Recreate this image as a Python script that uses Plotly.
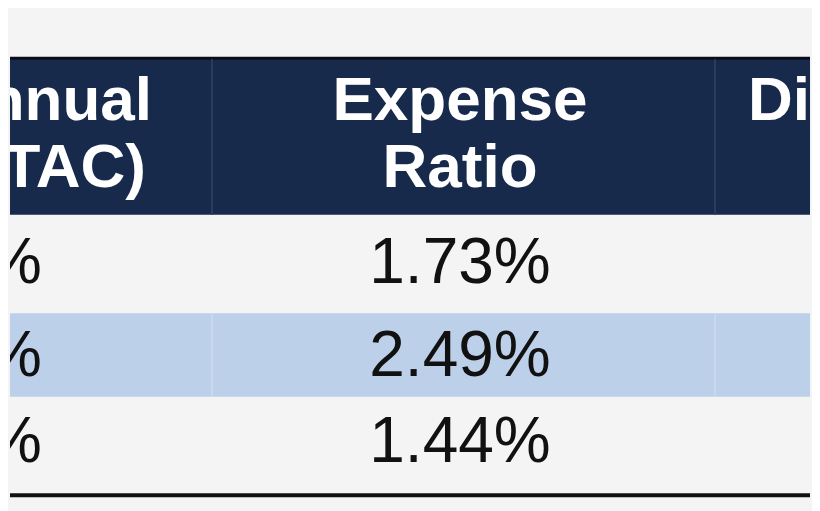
import plotly.graph_objects as go

header_mid = ["Expense", "Ratio"]
header_left = ["Annual", "(TAC)"]
header_right = ["Distribution", ""]
ratios = ["1.73%", "2.49%", "1.44%"]
left_vals = ["1.85%", "2.61%", "1.56%"]

fig = go.Figure()
bg = "#f4f4f4"
navy = "#182a4c"
blue = "#bcd0ea"
shapes = [
    dict(type="rect", x0=0, x1=900, y0=42, y1=202, fillcolor=navy, line_width=0, layer="below"),
    dict(type="line", x0=0, x1=900, y0=43, y1=43, line=dict(color="#0c0c18", width=3), layer="below"),
    dict(type="rect", x0=0, x1=900, y0=302, y1=387, fillcolor=blue, line_width=0, layer="below"),
    dict(type="line", x0=0, x1=900, y0=487, y1=487, line=dict(color="#111", width=4), layer="below"),
]
for xc in [212, 715]:
    shapes.append(dict(type="line", x0=xc, x1=xc, y0=44, y1=202, line=dict(color="#2a3c5e", width=2), layer="below"))
    shapes.append(dict(type="line", x0=xc, x1=xc, y0=302, y1=387, line=dict(color="#c8d8ee", width=2), layer="below"))
ry = [255, 350, 437]
hy = [90, 158]
hf = dict(family="Liberation Sans, Arial", size=62, color="white")
vf = dict(family="Liberation Sans, Arial", size=64, color="#111")
fig.add_trace(go.Scatter(x=[460, 460], y=hy, text=[f"<b>{t}</b>" for t in header_mid], mode="text", textfont=hf, textposition="middle center"))
fig.add_trace(go.Scatter(x=[152, 146], y=hy, text=[f"<b>{t}</b>" for t in header_left], mode="text", textfont=hf, textposition="middle left"))
fig.add_trace(go.Scatter(x=[748], y=[hy[0]], text=[f"<b>{header_right[0]}</b>"], mode="text", textfont=hf, textposition="middle right"))
fig.add_trace(go.Scatter(x=[460]*3, y=ry, text=ratios, mode="text", textfont=vf, textposition="middle center"))
fig.add_trace(go.Scatter(x=[42]*3, y=ry, text=left_vals, mode="text", textfont=vf, textposition="middle left"))
fig.update_traces(cliponaxis=True, hoverinfo="skip")
fig.update_layout(width=812, height=503, margin=dict(l=2, r=10, t=0, b=0), showlegend=False,
                  paper_bgcolor=bg, plot_bgcolor=bg, shapes=shapes,
                  xaxis=dict(range=[10, 810], visible=False, fixedrange=True),
                  yaxis=dict(range=[503, -8], visible=False, fixedrange=True))
fig.write_html("out.html", config={"displayModeBar": False})
